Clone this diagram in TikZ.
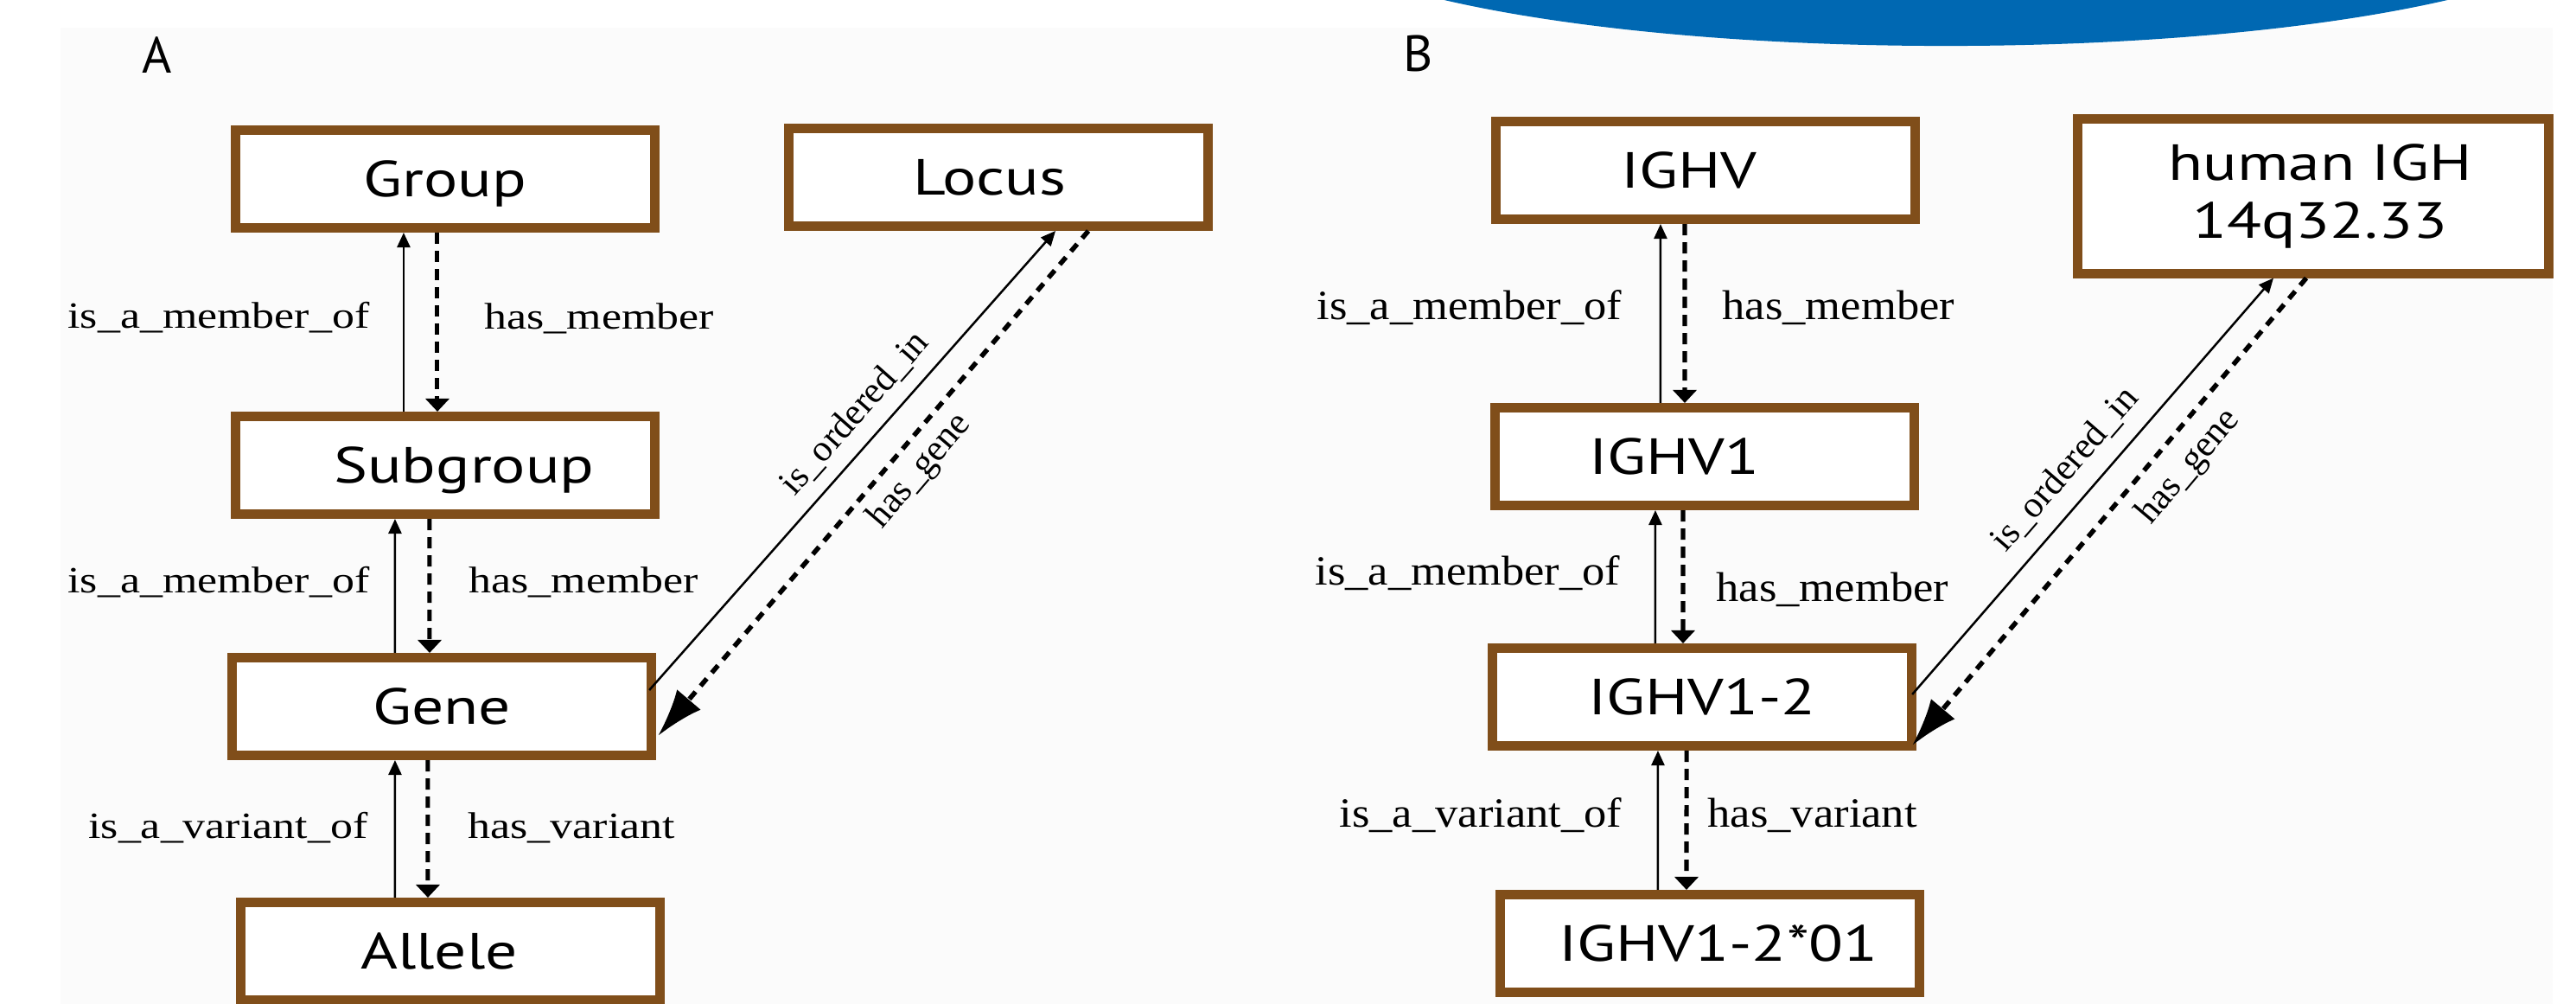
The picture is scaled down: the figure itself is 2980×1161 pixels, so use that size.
\documentclass[tikz,border=0pt]{standalone}
\usepackage{fontspec}
\usepackage{tikz}
\usetikzlibrary{arrows.meta}
\setmainfont{Liberation Serif}
\newfontfamily\boxfont[FakeStretch=1.25]{PT Sans}
\newfontfamily\panfont{PT Sans}
\newfontfamily\relfont[FakeStretch=1.21]{Liberation Serif}
\newfontfamily\relfontb[FakeStretch=1.09]{Liberation Serif}
\definecolor{boxbrown}{RGB}{128,78,26}
\definecolor{bannerblue}{RGB}{0,104,178}
\definecolor{panelgray}{RGB}{251,251,251}

\begin{document}
\begin{tikzpicture}[x=0.01cm,y=-0.01cm,
  boxbase/.style={draw=boxbrown,line width=1.1mm,fill=white,minimum width=48.5mm,minimum height=11.3mm,inner sep=0pt,font=\boxfont\fontsize{16.7}{19}\selectfont},
  box/.style={boxbase,text height=11.7pt,text depth=0pt},
  locbox/.style={boxbase,minimum width=54.4mm,minimum height=17.8mm,align=center},
  panlab/.style={font=\panfont\fontsize{16.7}{19}\selectfont,inner sep=0pt},
  rel/.style={font=\relfont\fontsize{12.2}{14}\selectfont,inner sep=0pt},
  relb/.style={font=\relfontb\fontsize{13.7}{16}\selectfont,inner sep=0pt},
  dlab/.style={font=\fontsize{12.2}{14}\selectfont,inner sep=0pt,sloped},
  sol/.style={line width=0.25mm,-{Triangle[length=1.7mm,width=1.5mm]}},
  dsh/.style={line width=0.5mm,dash pattern=on 1.3mm off 0.8mm,-{Triangle[length=1.5mm,width=2.7mm]}},
  dshbig/.style={line width=0.55mm,dash pattern=on 1.1mm off 0.9mm,-{Latex[length=5.5mm,width=3.6mm]}}]
%%%BACKGROUND
\useasboundingbox (0,0) rectangle (2980,1161);
\fill[panelgray] (70,32) rectangle (2953,1161);
\fill[bannerblue] (2251,-100) ellipse [x radius=7.66cm,y radius=1.53cm];

%%%PANEL A
\node[panlab] (labA) at (182,64) {A};
\node[box] (group) at (515,207) {Group};
\node[box] (locus) at (1155,205) {Locus\hspace*{2mm}};
\node[box] (subgroup) at (515,538) {\hspace*{4.4mm}Subgroup};
\node[box] (gene) at (511,817) {Gene};
\node[box] (allele) at (521,1100) {Allele\hspace*{2.6mm}};

\draw[sol] ([xshift=-4.8mm]subgroup.north) -- ([xshift=-4.8mm]group.south);
\draw[dsh] ([xshift=-0.9mm]group.south) -- ([xshift=-0.9mm]subgroup.north);
\draw[sol] ([xshift=-5.4mm]gene.north) -- ([xshift=-5.8mm]subgroup.south);
\draw[dsh] ([xshift=-1.8mm]subgroup.south) -- ([xshift=-1.4mm]gene.north);
\draw[sol] ([xshift=-6.4mm]allele.north) -- ([xshift=-5.4mm]gene.south);
\draw[dsh] ([xshift=-1.6mm]gene.south) -- ([xshift=-2.6mm]allele.north);

\node[rel,anchor=base east] (memA1) at (428,380) {is\_a\_member\_of};
\node[rel,anchor=base west] (hasA1) at (560,381) {has\_member};
\node[rel,anchor=base east] (memA2) at (428,686) {is\_a\_member\_of};
\node[rel,anchor=base west] (hasA2) at (542,686) {has\_member};
\node[rel,anchor=base east] (varA) at (426,969) {is\_a\_variant\_of};
\node[rel,anchor=base west] (hasvarA) at (541,969) {has\_variant};

%%%LOCUS LINKS A
\draw[sol] ([shift={(-8,-19)}]gene.east) -- node[dlab,pos=0.56,above=1.5mm] (ordA) {is\_ordered\_in} ([xshift=6.6mm]locus.south);
\draw[dshbig] ([xshift=10.4mm]locus.south) -- node[dlab,pos=0.44,below=1mm] (geneA) {has\_gene} ([shift={(2,34)}]gene.east);

%%%PANEL B
\node[panlab] (labB) at (1641,62) {B};
\node[box] (ighv) at (1973,197) {IGHV\hspace*{3.8mm}};
\node[locbox] (locb) at (2676,227) {\hspace*{1.6mm}human IGH\\\hspace*{1.6mm}14q32.33};
\node[box] (ighvone) at (1972,528) {IGHV1\hspace*{7mm}};
\node[box] (ighvtwo) at (1969,806) {IGHV1-2};
\node[box] (ighvall) at (1978,1091) {\hspace*{2mm}IGHV1-2*01};

\draw[sol] ([xshift=-5.1mm]ighvone.north) -- ([xshift=-5.2mm]ighv.south);
\draw[dsh] ([xshift=-2.4mm]ighv.south) -- ([xshift=-2.3mm]ighvone.north);
\draw[sol] ([xshift=-5.4mm]ighvtwo.north) -- ([xshift=-5.7mm]ighvone.south);
\draw[dsh] ([xshift=-2.5mm]ighvone.south) -- ([xshift=-2.2mm]ighvtwo.north);
\draw[sol] ([xshift=-6.0mm]ighvall.north) -- ([xshift=-5.1mm]ighvtwo.south);
\draw[dsh] ([xshift=-1.8mm]ighvtwo.south) -- ([xshift=-2.7mm]ighvall.north);

\node[relb,anchor=base east] (memB1) at (1877,370) {is\_a\_member\_of};
\node[relb,anchor=base west] (hasB1) at (1992,370) {has\_member};
\node[relb,anchor=base east] (memB2) at (1875,677) {is\_a\_member\_of};
\node[relb,anchor=base west] (hasB2) at (1985,696) {has\_member};
\node[relb,anchor=base east] (varB) at (1877,957) {is\_a\_variant\_of};
\node[relb,anchor=base west] (hasvarB) at (1975,957) {has\_variant};

%%%LOCUS LINKS B
\draw[sol] ([shift={(-5,-3)}]ighvtwo.east) -- node[dlab,pos=0.49,above=1.8mm] (ordB) {is\_ordered\_in} ([xshift=-4.6mm]locb.south);
\draw[dshbig] ([xshift=-0.8mm]locb.south) -- node[dlab,pos=0.36,below=1.5mm] (geneB) {has\_gene} ([shift={(-5,56)}]ighvtwo.east);
\end{tikzpicture}
\end{document}
